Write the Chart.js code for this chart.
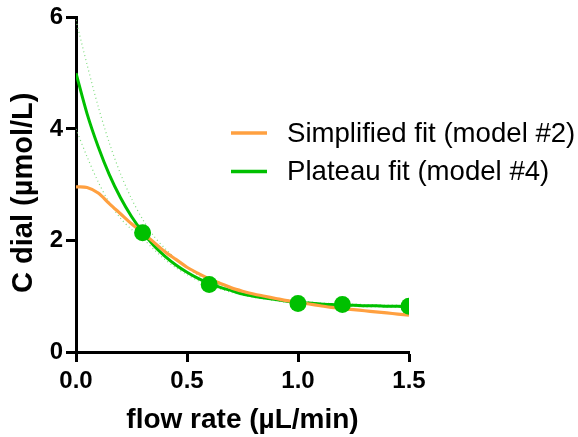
<!DOCTYPE html>
<html>
<head>
<meta charset="utf-8">
<script src="https://cdn.jsdelivr.net/npm/chart.js@4/dist/chart.umd.min.js"></script>
<style>
    html, body { margin: 0; padding: 0; background: #fff; }
    #wrap { width: 578px; height: 437px; }
</style>
</head>
<body>
<div id="wrap"><canvas id="fit-chart" width="578" height="437"></canvas></div>
<script>
// measured points
const flowRate = [0.3, 0.6, 1.0, 1.2, 1.5];
const cDial = [2.14, 1.21, 0.87, 0.85, 0.82];

// fitted curves, every 0.05 µL/min
const fitX = [0, 0.05, 0.1, 0.15, 0.2, 0.25, 0.3, 0.35, 0.4, 0.45, 0.5, 0.55, 0.6, 0.65, 0.7, 0.75,
    0.8, 0.85, 0.9, 0.95, 1.0, 1.05, 1.1, 1.15, 1.2, 1.25, 1.3, 1.35, 1.4, 1.45, 1.5];
const simplifiedFit = [2.96, 2.95, 2.85, 2.66, 2.48, 2.3, 2.14, 1.97, 1.8, 1.66, 1.52, 1.41, 1.31, 1.23, 1.15, 1.09,
    1.04, 1.0, 0.96, 0.92, 0.89, 0.86, 0.83, 0.8, 0.78, 0.76, 0.74, 0.72, 0.7, 0.68, 0.66];
const plateauFit = [5.0, 4.27, 3.68, 3.18, 2.77, 2.43, 2.15, 1.91, 1.72, 1.56, 1.43, 1.32, 1.23, 1.16, 1.1, 1.04,
    1.0, 0.97, 0.94, 0.91, 0.89, 0.88, 0.86, 0.85, 0.84, 0.84, 0.83, 0.83, 0.82, 0.82, 0.81];
const plateauUpper = [5.95, 5.15, 4.4, 3.75, 3.2, 2.75, 2.38, 2.08, 1.86, 1.67, 1.51, 1.38, 1.28, 1.2, 1.13, 1.07,
    1.03, 0.99, 0.96, 0.93, 0.91, 0.9, 0.88, 0.87, 0.86, 0.86, 0.85, 0.85, 0.84, 0.84, 0.83];
const plateauLower = [4.0, 3.5, 3.05, 2.68, 2.4, 2.2, 2.04, 1.84, 1.66, 1.51, 1.39, 1.28, 1.2, 1.13, 1.07, 1.02,
    0.98, 0.95, 0.92, 0.89, 0.87, 0.86, 0.84, 0.83, 0.82, 0.82, 0.81, 0.81, 0.8, 0.8, 0.79];

const xTicks = [0, 0.5, 1.0, 1.5];
const yTicks = [0, 2, 4, 6];

const ORANGE = "#ffa040";
const GREEN = "#00c000";
const BAND = "#7edc7e";
const FONT = "'Liberation Sans', Arial, Helvetica, sans-serif";

function pairs(xs, ys) {
    return xs.map((x, i) => ({ x, y: ys[i] }));
}

function curve(label, ys, color, width, order, extra) {
    return Object.assign({
        label,
        data: pairs(fitX, ys),
        showLine: true,
        borderColor: color,
        backgroundColor: color,
        borderWidth: width,
        pointRadius: 0,
        tension: 0.3,
        order,
    }, extra || {});
}

// legend drawn by hand so it can sit over the right side of the plot
const fitLegend = {
    id: "fitLegend",
    afterDraw(chart) {
        const ctx = chart.ctx;
        const rows = chart.data.datasets.filter((ds) => ds.inLegend);
        ctx.save();
        rows.forEach((ds, i) => {
            const y = 133 + i * 38.5;
            ctx.strokeStyle = ds.borderColor;
            ctx.lineWidth = 3.5;
            ctx.beginPath();
            ctx.moveTo(231, y);
            ctx.lineTo(267, y);
            ctx.stroke();
            ctx.fillStyle = "#000";
            ctx.font = `27.6px ${FONT}`;
            ctx.textBaseline = "middle";
            ctx.fillText(ds.label, 287, y + 1);
        });
        ctx.restore();
    },
};

const axisStyle = {
    grid: { display: true, drawOnChartArea: false, drawTicks: true, tickLength: 10, tickWidth: 3, tickColor: "#000" },
    border: { display: true, width: 3, color: "#000" },
};

new Chart(document.getElementById("fit-chart"), {
    type: "scatter",
    data: {
        datasets: [
            {
                label: "Data",
                data: pairs(flowRate, cDial),
                backgroundColor: GREEN,
                borderColor: GREEN,
                pointRadius: 8.5,
                pointBorderWidth: 0,
                showLine: false,
                order: 0,
            },
            curve("Simplified fit (model #2)", simplifiedFit, ORANGE, 3.2, 1, { inLegend: true }),
            curve("Plateau fit (model #4)", plateauFit, GREEN, 3, 2, { inLegend: true }),
            curve("upper band", plateauUpper, BAND, 1.2, 3, { borderDash: [1, 3] }),
            curve("lower band", plateauLower, BAND, 1.2, 3, { borderDash: [1, 3] }),
        ],
    },
    options: {
        responsive: false,
        animation: false,
        devicePixelRatio: 1,
        layout: { padding: { top: 16, right: 169, left: 0, bottom: 0 } },
        plugins: { legend: { display: false }, tooltip: { enabled: false } },
        scales: {
            x: {
                type: "linear",
                min: 0,
                max: 1.5,
                afterFit: (scale) => { scale.height = 85; },
                afterBuildTicks: (scale) => { scale.ticks = xTicks.map((v) => ({ value: v })); },
                ticks: {
                    padding: 5,
                    color: "#000",
                    font: { family: FONT, size: 24, weight: "bold" },
                    callback: (v) => Number(v).toFixed(1),
                },
                title: {
                    display: true,
                    text: "flow rate (µL/min)",
                    color: "#000",
                    font: { family: FONT, size: 28, weight: "bold" },
                    padding: { top: 2, bottom: 0 },
                },
                ...axisStyle,
            },
            y: {
                type: "linear",
                min: 0,
                max: 6,
                afterFit: (scale) => { scale.width = 76; },
                afterBuildTicks: (scale) => { scale.ticks = yTicks.map((v) => ({ value: v })); },
                ticks: {
                    padding: 3,
                    color: "#000",
                    font: { family: FONT, size: 24, weight: "bold" },
                },
                title: {
                    display: true,
                    // trailing spaces nudge the title down a little, as in the figure
                    text: "C dial (µmol/L)  ",
                    color: "#000",
                    font: { family: FONT, size: 29, weight: "bold" },
                    padding: { top: 7, bottom: 0 },
                },
                ...axisStyle,
            },
        },
    },
    plugins: [fitLegend],
});
</script>
</body>
</html>
